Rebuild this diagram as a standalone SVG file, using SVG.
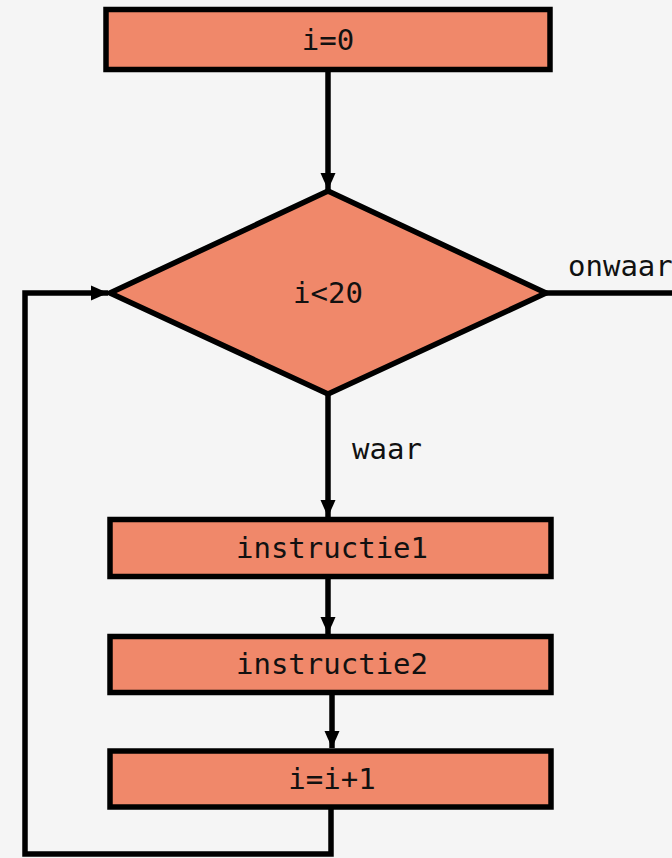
<svg xmlns="http://www.w3.org/2000/svg" width="672" height="858" viewBox="0 0 672 858">
  <defs>
    <marker id="arrow" markerUnits="userSpaceOnUse" markerWidth="18" markerHeight="18" viewBox="0 0 18 18" refX="17" refY="9" orient="auto">
      <path d="M0,1.5 L17,9 L0,16.5 Z" fill="#000"/>
    </marker>
  </defs>
  <style>
    .node { fill: #f0886a; stroke: #000; stroke-width: 5.5; stroke-linejoin: miter; }
    .label { font-family: "DejaVu Sans Mono", "Liberation Mono", monospace; font-size: 29px; fill: #111; }
    .edge { fill: none; stroke: #000; stroke-width: 5.5; }
  </style>
  <rect width="672" height="858" fill="#f5f5f5"/>

  <g id="connectors">
    <line class="edge" x1="328" y1="72" x2="328" y2="190" marker-end="url(#arrow)"/>
    <line class="edge" x1="328" y1="394" x2="328" y2="517" marker-end="url(#arrow)"/>
    <line class="edge" x1="328" y1="579" x2="328" y2="634" marker-end="url(#arrow)"/>
    <line class="edge" x1="332" y1="695" x2="332" y2="748" marker-end="url(#arrow)"/>
    <polyline class="edge" points="331,809 331,854 25,854 25,293 108,293" marker-end="url(#arrow)"/>
    <line class="edge" x1="546" y1="293" x2="672" y2="293"/>
    <text class="label" x="352" y="459">waar</text>
    <text class="label" x="568" y="276">onwaar</text>
  </g>

  <g id="init">
    <rect class="node" x="106" y="9.5" width="444" height="60"/>
    <text class="label" x="328" y="40" text-anchor="middle" dominant-baseline="central">i=0</text>
  </g>

  <g id="condition">
    <polygon class="node" points="328,191 546,293 328,394 110,293"/>
    <text class="label" x="328" y="293" text-anchor="middle" dominant-baseline="central">i&lt;20</text>
  </g>

  <g id="instructie1">
    <rect class="node" x="110" y="519.5" width="441" height="57"/>
    <text class="label" x="332" y="548" text-anchor="middle" dominant-baseline="central">instructie1</text>
  </g>

  <g id="instructie2">
    <rect class="node" x="110" y="636.5" width="441" height="56"/>
    <text class="label" x="332" y="664" text-anchor="middle" dominant-baseline="central">instructie2</text>
  </g>

  <g id="increment">
    <rect class="node" x="110" y="751" width="441" height="56"/>
    <text class="label" x="332" y="779" text-anchor="middle" dominant-baseline="central">i=i+1</text>
  </g>
</svg>
